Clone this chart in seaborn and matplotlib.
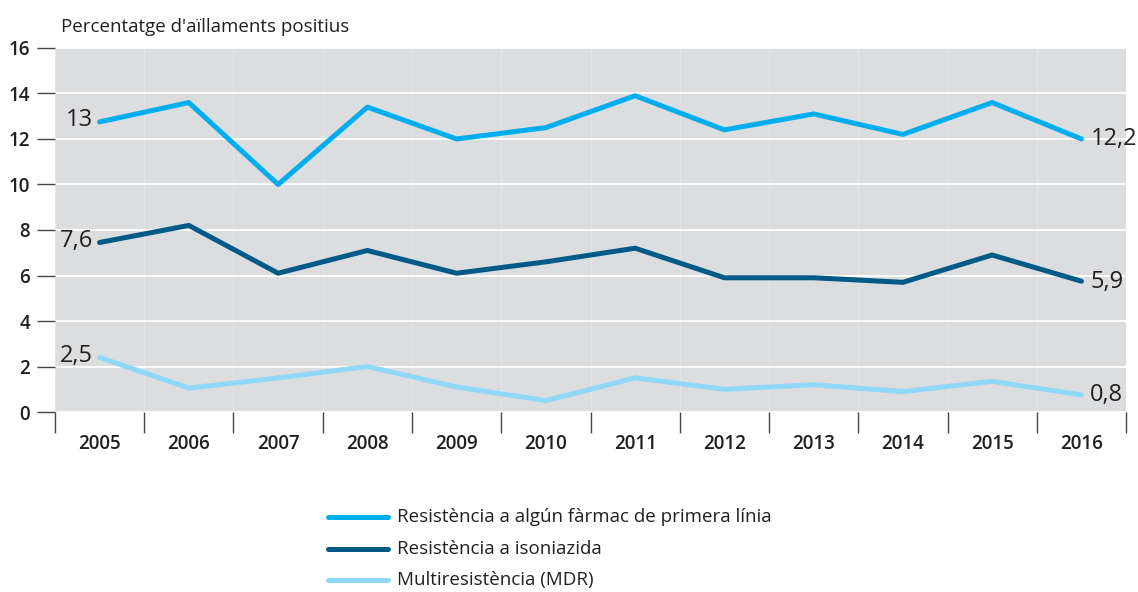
import numpy as np
import pandas as pd
import matplotlib.pyplot as plt
import seaborn as sns

years = list(range(2005, 2017))
primera_linia = [12.75, 13.6, 10.0, 13.4, 12.0, 12.5, 13.9, 12.4, 13.1, 12.2, 13.6, 12.0]
isoniazida = [7.45, 8.2, 6.1, 7.1, 6.1, 6.6, 7.2, 5.9, 5.9, 5.7, 6.9, 5.75]
mdr = [2.4, 1.05, 1.5, 2.0, 1.1, 0.5, 1.5, 1.0, 1.2, 0.9, 1.35, 0.75]
start_labels = ["13", "7,6", "2,5"]
end_labels = ["12,2", "5,9", "0,8"]
series_names = ["Resistència a algún fàrmac de primera línia",
                "Resistència a isoniazida",
                "Multiresistència (MDR)"]
colors = ["#00aeef", "#005a87", "#8fd8f8"]

df = pd.DataFrame({
    "any": years * 3,
    "valor": primera_linia + isoniazida + mdr,
    "serie": [series_names[0]] * 12 + [series_names[1]] * 12 + [series_names[2]] * 12,
})

sns.set_style("white", {"xtick.bottom": True, "ytick.left": True})
plt.rcParams['font.family'] = ['Open Sans', 'DejaVu Sans']
txt = "#231f20"
fig = plt.figure(figsize=(11.38, 5.92), dpi=100)
ax = fig.add_axes([0.0483, 0.304, 0.9412, 0.615])
ax.set_facecolor("#dcdddf")

sns.lineplot(data=df, x="any", y="valor", hue="serie", palette=colors,
             linewidth=3.6, ax=ax, legend=False, zorder=3)

ax.set_xlim(2004.5, 2016.5)
ax.set_ylim(0, 16)
ax.set_yticks(range(0, 17, 2))
ax.set_xticks(np.arange(2004.5, 2017, 1))
ax.set_xticklabels([])
ax.set_xticks(years, minor=True)
ax.set_xticklabels([str(y) for y in years], minor=True, fontsize=13.5, fontweight="semibold", color=txt)
ax.tick_params(axis="x", which="major", bottom=True, length=15, width=1, color="#444444", direction="out")
ax.tick_params(axis="x", which="minor", bottom=False, length=0, pad=16)
ax.tick_params(axis="y", left=True, length=13, width=1, color="#444444", labelsize=13.5, labelcolor=txt, pad=5)
for lab in ax.get_yticklabels():
    lab.set_fontweight("semibold")

ax.grid(axis="y", color="white", linewidth=1.3, zorder=1)
ax.grid(axis="x", which="major", color="#e4e5e7", linewidth=0.8, zorder=1)
ax.set_axisbelow(True)
for s in ax.spines.values():
    s.set_visible(False)
ax.set_xlabel("")
ax.set_ylabel("")

for vals, sl, el in zip([primera_linia, isoniazida, mdr], start_labels, end_labels):
    ax.text(years[0] - 0.07, vals[0] + 0.08, sl, ha="right", va="center", fontsize=17, fontweight="medium", color=txt, zorder=4)
    ax.text(years[-1] + 0.1, vals[-1] - 0.02, el, ha="left", va="center", fontsize=17, fontweight="medium", color=txt, zorder=4)

fig.text(0.054, 0.955, "Percentatge d'aïllaments positius", fontsize=13.5, fontweight="medium", color=txt, va="center")

for i, (name, c) in enumerate(zip(series_names, colors)):
    y = 1 - (517 + i * 31.5) / 592
    fig.add_artist(plt.Line2D([328 / 1138, 388 / 1138], [y, y], color=c, linewidth=3.6))
    fig.text(397 / 1138, y, name, fontsize=13.5, fontweight="medium", color=txt, va="center")

fig.savefig("out.png", dpi=100)
